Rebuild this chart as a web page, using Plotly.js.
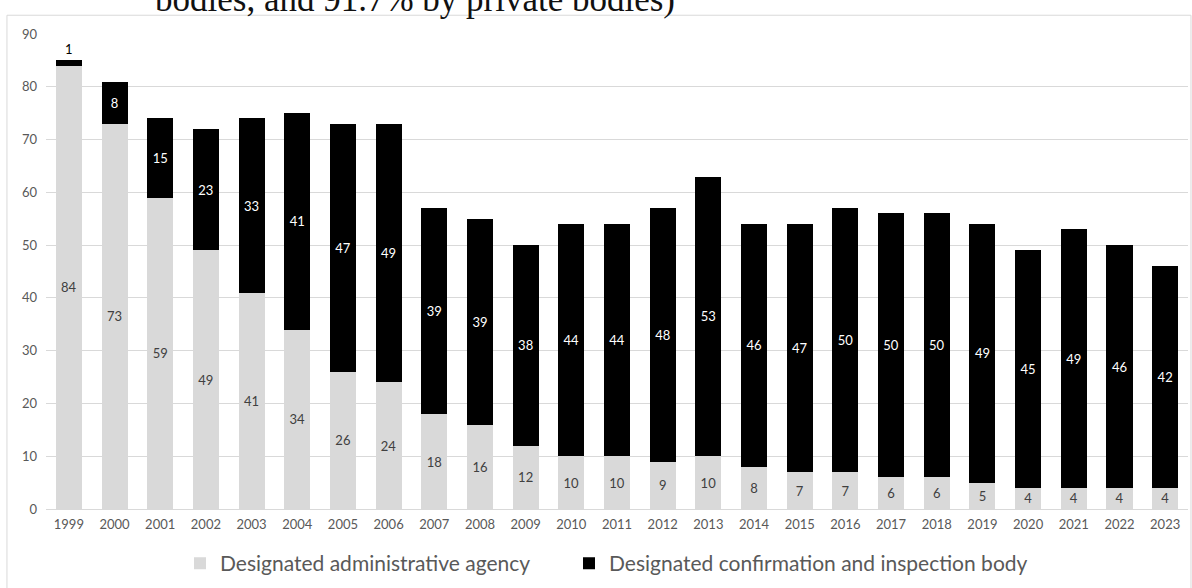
<!DOCTYPE html>
<html>
<head>
<meta charset="utf-8">
<script src="https://cdn.plot.ly/plotly-3.0.1.min.js"></script>
<style>html,body{margin:0;padding:0;background:#fff;}#chart{width:1192px;height:588px;}</style>
</head>
<body>
<div id="chart"></div>
<script>
const years = ['1999','2000','2001','2002','2003','2004','2005','2006','2007','2008','2009','2010','2011','2012','2013','2014','2015','2016','2017','2018','2019','2020','2021','2022','2023'];
const adminAgency = [84,73,59,49,41,34,26,24,18,16,12,10,10,9,10,8,7,7,6,6,5,4,4,4,4];
const inspectionBody = [1,8,15,23,33,41,47,49,39,39,38,44,44,48,53,46,47,50,50,50,49,45,49,46,42];
const seriesNames = ['Designated administrative agency','Designated confirmation and inspection body'];
const titleFragment = 'bodies, and 91.7% by private bodies)';
const yTicks = [0,10,20,30,40,50,60,70,80,90];

const font = 'Lato, "Open Sans", sans-serif';

const traces = [
  {
    type: 'bar', name: seriesNames[0], x: years, y: adminAgency, legend: 'legend',
    marker: {color: '#d9d9d9'},
    text: adminAgency.map(String), textposition: 'inside', insidetextanchor: 'middle', textangle: 0,
    textfont: {family: font, size: 13, color: '#404040'},
    constraintext: 'none', hoverinfo: 'x+y+name'
  },
  {
    type: 'bar', name: seriesNames[1], x: years, y: inspectionBody, legend: 'legend2',
    marker: {color: '#000000'},
    text: inspectionBody.map(String),
    textposition: inspectionBody.map((v, i) => i === 0 ? 'outside' : 'inside'),
    insidetextanchor: 'middle', textangle: 0,
    insidetextfont: {family: font, size: 13, color: '#ffffff'},
    outsidetextfont: {family: font, size: 13, color: '#000000'},
    constraintext: 'none', cliponaxis: false, hoverinfo: 'x+y+name'
  }
];

const legendStyle = {
  orientation: 'h', y: -0.115, yanchor: 'middle', xanchor: 'left',
  font: {family: font, size: 21, color: '#595959'},
  bgcolor: 'rgba(0,0,0,0)', borderwidth: 0, itemclick: false
};

const layout = {
  width: 1192, height: 588,
  margin: {l: 46, r: 4, t: 34, b: 73, pad: 0},
  paper_bgcolor: '#ffffff', plot_bgcolor: '#ffffff',
  barmode: 'stack', bargap: 0.43,
  font: {family: font, color: '#595959'},
  xaxis: {
    type: 'category', tickfont: {family: font, size: 13, color: '#595959'},
    showgrid: false, showline: false, ticks: '', ticklabelstandoff: 6
  },
  yaxis: {
    range: [0, 90], tickvals: yTicks, ticktext: yTicks.map(String),
    tickfont: {family: font, size: 13, color: '#595959'},
    showgrid: true, gridcolor: '#d9d9d9', gridwidth: 1,
    zeroline: true, zerolinecolor: '#d9d9d9', zerolinewidth: 1,
    showline: false, ticks: '', ticklabelstandoff: 8
  },
  legend: Object.assign({}, legendStyle, {x: (180 - 46) / 1142}),
  legend2: Object.assign({}, legendStyle, {x: (569 - 46) / 1142}),
  showlegend: true,
  shapes: [
    {type: 'rect', xref: 'paper', yref: 'paper', x0: -0.0342, x1: 1.0026, y0: -0.2, y1: 1.0395,
     line: {color: '#d9d9d9', width: 1}, fillcolor: 'rgba(0,0,0,0)', layer: 'below'}
  ],
  annotations: [
    {xref: 'paper', yref: 'paper', x: (153 - 46) / 1142, xanchor: 'left', y: 1.073, yanchor: 'middle',
     text: titleFragment, showarrow: false,
     font: {family: '"Liberation Serif", "DejaVu Serif", serif', size: 35, color: '#111111'}}
  ]
};

Plotly.newPlot('chart', traces, layout, {displayModeBar: false, staticPlot: true});
</script>
</body>
</html>
